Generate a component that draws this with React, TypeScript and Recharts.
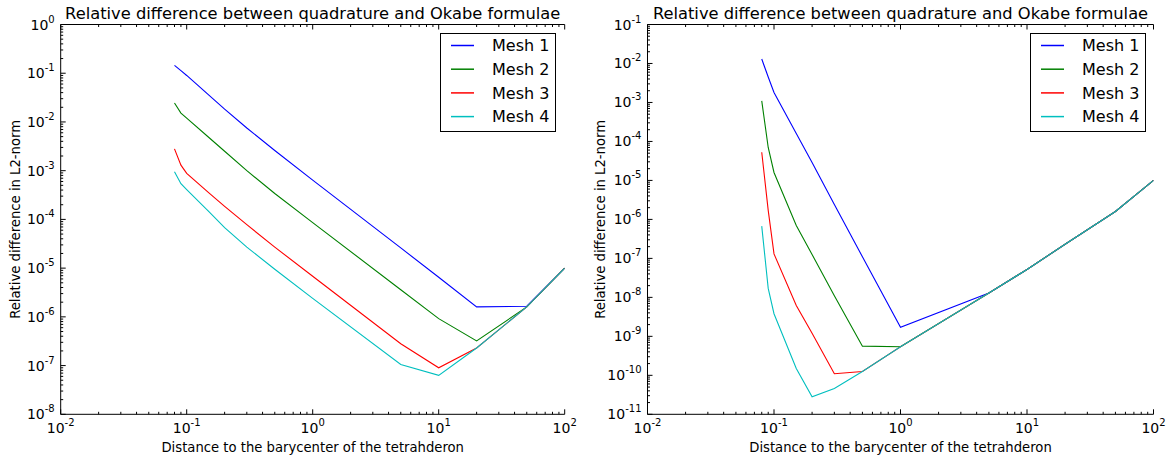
import { Legend, Line, LineChart, XAxis, YAxis } from "recharts";

const FONT = "DejaVu Sans";
const TITLE = "Relative difference between quadrature and Okabe formulae";
const X_TITLE = "Distance to the barycenter of the tetrahderon";
const Y_TITLE = "Relative difference in L2-norm";

const distances = [0.08, 0.09, 0.1, 0.15, 0.2, 0.3, 0.5, 1, 5, 10, 20, 50, 100];

// left panel
const leftMesh1 = [0.145, 0.113, 0.09, 0.0355, 0.0183, 0.0075, 0.0026, 6.4e-4, 2.6e-5, 6.5e-6, 1.6e-6, 1.65e-6, 1e-5];
const leftMesh2 = [0.0245, 0.0152, 0.012, 0.0048, 0.0025, 0.001, 3.4e-4, 8.6e-5, 3.6e-6, 9.2e-7, 3.2e-7, 1.6e-6, 1e-5];
const leftMesh3 = [2.8e-3, 1.3e-3, 8.8e-4, 3.5e-4, 1.85e-4, 7.8e-5, 2.7e-5, 6.8e-6, 2.8e-7, 9e-8, 2.3e-7, 1.6e-6, 1e-5];
const leftMesh4 = [9.5e-4, 5.4e-4, 4.1e-4, 1.45e-4, 6.8e-5, 2.7e-5, 9.5e-6, 2.4e-6, 1.05e-7, 6.3e-8, 2.3e-7, 1.6e-6, 1e-5];

// right panel
const rightMesh1 = [1.3e-2, 4.5e-3, 1.8e-3, 1.6e-4, 2.9e-5, 2.4e-6, 1.1e-7, 1.7e-9, 1.3e-8, 5.2e-8, 2.3e-7, 1.6e-6, 1e-5];
const rightMesh2 = [1.1e-3, 7e-5, 1.6e-5, 7e-7, 1.25e-7, 1.1e-8, 5.6e-10, 5.4e-10, 1.3e-8, 5.2e-8, 2.3e-7, 1.6e-6, 1e-5];
const rightMesh3 = [5.3e-5, 1.7e-6, 1.3e-7, 6.2e-9, 1.2e-9, 1.1e-10, 1.25e-10, 5.4e-10, 1.3e-8, 5.2e-8, 2.3e-7, 1.6e-6, 1e-5];
const rightMesh4 = [6.7e-7, 1.7e-8, 3.8e-9, 1.5e-10, 2.8e-11, 4.6e-11, 1.25e-10, 5.4e-10, 1.3e-8, 5.2e-8, 2.3e-7, 1.6e-6, 1e-5];

const meshNames = ["Mesh 1", "Mesh 2", "Mesh 3", "Mesh 4"];
const meshColors = ["#0000ff", "#008000", "#ff0000", "#00bfbf"];

const xMajor = [0.01, 0.1, 1, 10, 100];
const leftYMajor = [1e-8, 1e-7, 1e-6, 1e-5, 1e-4, 1e-3, 1e-2, 1e-1, 1];
const rightYMajor = [1e-11, 1e-10, 1e-9, 1e-8, 1e-7, 1e-6, 1e-5, 1e-4, 1e-3, 1e-2, 1e-1];

const withMinors = (majors: number[]) => {
  const out: number[] = [];
  majors.forEach((m, i) => {
    out.push(m);
    if (i < majors.length - 1) for (let k = 2; k < 10; k++) out.push(m * k);
  });
  return out;
};

const buildRows = (series: number[][]) =>
  distances.map((d, i) => ({
    d,
    m1: series[0][i],
    m2: series[1][i],
    m3: series[2][i],
    m4: series[3][i],
  }));

const leftRows = buildRows([leftMesh1, leftMesh2, leftMesh3, leftMesh4]);
const rightRows = buildRows([rightMesh1, rightMesh2, rightMesh3, rightMesh4]);

const makeTick = (side: "bottom" | "top" | "left" | "right") => (props: any) => {
  const { x, y, payload } = props;
  const e = Math.log10(payload.value);
  const exp = Math.round(e);
  const major = Math.abs(e - exp) < 1e-6;
  const len = major ? 5 : 2.5;
  let line;
  if (side === "bottom") line = <line x1={x} y1={y} x2={x} y2={y - len} stroke="#000" />;
  else if (side === "top") line = <line x1={x} y1={y} x2={x} y2={y + len} stroke="#000" />;
  else if (side === "left") line = <line x1={x} y1={y} x2={x + len} y2={y} stroke="#000" />;
  else line = <line x1={x} y1={y} x2={x - len} y2={y} stroke="#000" />;
  let label = null;
  if (major && side === "bottom") {
    label = (
      <text x={x} y={y + 18.5} textAnchor="middle" fontSize={14} fontFamily={FONT} fill="#000">
        10<tspan dy={-7} fontSize={10}>{exp}</tspan>
      </text>
    );
  } else if (major && side === "left") {
    label = (
      <text x={x - 6} y={y + 5} textAnchor="end" fontSize={14} fontFamily={FONT} fill="#000">
        10<tspan dy={-7} fontSize={10}>{exp}</tspan>
      </text>
    );
  }
  return (
    <g>
      {line}
      {label}
    </g>
  );
};

const bottomTick = makeTick("bottom");
const topTick = makeTick("top");
const leftTick = makeTick("left");
const rightTick = makeTick("right");

const LegendBox = (props: any) => {
  const items = props.payload || [];
  return (
    <svg width={116} height={99} style={{ display: "block" }}>
      <rect x={0.5} y={0.5} width={115} height={98} fill="#fff" stroke="#000" strokeWidth={1} />
      {items.map((it: any, i: number) => {
        const cy = 12.5 + i * 23.7;
        return (
          <g key={it.value}>
            <line x1={11} y1={cy} x2={34} y2={cy} stroke={it.color} strokeWidth={1.5} />
            <text x={52} y={cy + 5.8} fontSize={16} fontFamily={FONT} fill="#000">
              {it.value}
            </text>
          </g>
        );
      })}
    </svg>
  );
};

type PanelProps = {
  rows: any[];
  yMajor: number[];
  width: number;
  yAxisWidth: number;
  rightMargin: number;
  legendLeft: number;
};

const Panel = ({ rows, yMajor, width, yAxisWidth, rightMargin, legendLeft }: PanelProps) => {
  const xTicks = withMinors(xMajor);
  const yTicks = withMinors(yMajor);
  const xDomain = [xMajor[0], xMajor[xMajor.length - 1]];
  const yDomain = [yMajor[0], yMajor[yMajor.length - 1]];
  return (
    <LineChart
      width={width}
      height={457}
      data={rows}
      margin={{ top: 0, right: rightMargin, bottom: 0, left: 0 }}
    >
      <XAxis
        xAxisId="b"
        dataKey="d"
        type="number"
        scale="log"
        domain={xDomain}
        allowDataOverflow
        ticks={xTicks}
        interval={0}
        tickSize={0}
        tickMargin={0}
        tick={bottomTick}
        axisLine={{ stroke: "#000" }}
        height={42.7}
        label={{ value: X_TITLE, position: "insideBottom", offset: 5, fontSize: 13.2, fontFamily: FONT, fill: "#000" }}
      />
      <XAxis
        xAxisId="t"
        orientation="top"
        dataKey="d"
        type="number"
        scale="log"
        domain={xDomain}
        allowDataOverflow
        ticks={xTicks}
        interval={0}
        tickSize={0}
        tickMargin={0}
        tick={topTick}
        axisLine={{ stroke: "#000" }}
        height={24.5}
        label={{ value: TITLE, position: "insideBottom", offset: 6, fontSize: 16.3, fontFamily: FONT, fill: "#000" }}
      />
      <YAxis
        yAxisId="l"
        type="number"
        scale="log"
        domain={yDomain}
        allowDataOverflow
        ticks={yTicks}
        interval={0}
        tickSize={0}
        tickMargin={0}
        tick={leftTick}
        axisLine={{ stroke: "#000" }}
        width={yAxisWidth}
        label={{
          value: Y_TITLE,
          angle: -90,
          position: "insideLeft",
          offset: 15,
          fontSize: 13.2,
          fontFamily: FONT,
          fill: "#000",
          style: { textAnchor: "middle" },
        }}
      />
      <YAxis
        yAxisId="r"
        orientation="right"
        type="number"
        scale="log"
        domain={yDomain}
        allowDataOverflow
        ticks={yTicks}
        interval={0}
        tickSize={0}
        tickMargin={0}
        tick={rightTick}
        axisLine={{ stroke: "#000" }}
        width={0}
      />
      <Legend
        layout="vertical"
        align="center"
        verticalAlign="middle"
        content={<LegendBox />}
        wrapperStyle={{ position: "absolute", left: legendLeft, top: 32.7, width: 116, height: 99 }}
      />
      {["m1", "m2", "m3", "m4"].map((k, i) => (
        <Line
          key={k}
          xAxisId="b"
          yAxisId="l"
          dataKey={k}
          name={meshNames[i]}
          type="linear"
          stroke={meshColors[i]}
          strokeWidth={1.1}
          dot={false}
          activeDot={false}
          isAnimationActive={false}
        />
      ))}
    </LineChart>
  );
};

export default function App() {
  return (
    <div style={{ position: "absolute", left: 0, top: 0, width: 1169, height: 457, background: "#fff" }}>
      <div style={{ position: "absolute", left: 0, top: 0 }}>
        <Panel rows={leftRows} yMajor={leftYMajor} width={585} yAxisWidth={60.7} rightMargin={20.3} legendLeft={440} />
      </div>
      <div style={{ position: "absolute", left: 585, top: 0 }}>
        <Panel rows={rightRows} yMajor={rightYMajor} width={584} yAxisWidth={62.5} rightMargin={15.5} legendLeft={444.5} />
      </div>
    </div>
  );
}
